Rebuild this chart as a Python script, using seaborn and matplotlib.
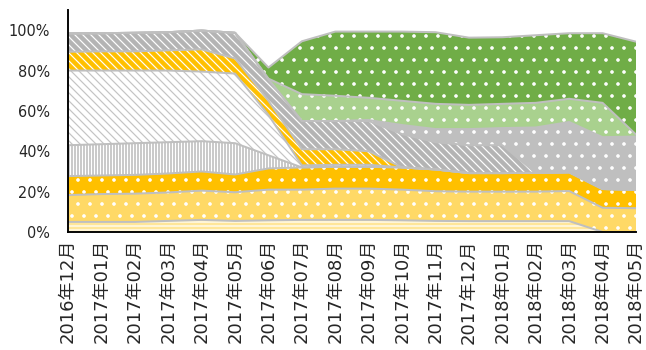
import numpy as np
import matplotlib
matplotlib.use("Agg")
import matplotlib.pyplot as plt
import seaborn as sns

# ==========================================
# Data (percent share per month, bottom layer first)
# ==========================================
months = ["2016年12月", "2017年01月", "2017年02月", "2017年03月", "2017年04月",
          "2017年05月", "2017年06月", "2017年07月", "2017年08月", "2017年09月",
          "2017年10月", "2017年11月", "2017年12月", "2018年01月", "2018年02月",
          "2018年03月", "2018年04月", "2018年05月"]

s1 = [5, 5, 5, 5.5, 6, 5.5, 5.8, 6, 6, 6, 5.8, 5.5, 5.4, 5.4, 5.4, 5.4, 0, 0]
s2 = [13.3, 13.8, 14, 14.1, 14.5, 14.2, 15.2, 15, 15.5, 15.5, 15.2, 14.7, 14.6, 14.6, 14.6, 14.9, 12, 11.8]
s3 = [9.4, 9.2, 9.3, 9.4, 9.5, 8.8, 10.5, 11, 10.8, 10.8, 11, 10.8, 9.2, 9.2, 9.3, 9.3, 9.3, 9.2]
s4 = [15.3, 15.5, 15.7, 15.5, 15, 15.5, 6.5, 0, 0, 0, 0, 0, 0, 0, 0, 0, 0, 0]
s5 = [37, 36.5, 36, 35.5, 34.5, 34.5, 20, 1, 1, 1, 0, 0, 0, 0, 0, 0, 0, 0]
s6 = [9.3, 9.5, 9.5, 10, 11, 7.5, 7, 8, 7.7, 6.7, 0, 0, 0, 0, 0, 0, 0, 0]
s7 = [9.1, 9, 9.2, 9, 9.3, 12.7, 10.6, 14, 14, 15, 16.5, 13.5, 13.8, 13.8, 0, 0, 0, 0]
s8 = [0, 0, 0, 0, 0, 0, 0, 0, 0, 0.5, 4.5, 6.5, 8, 8.5, 22.5, 24.9, 25.7, 26.3]
s9 = [0, 0, 0, 0, 0, 0, 0.4, 13.3, 12.5, 11, 12, 12.5, 12, 12, 12.2, 11.5, 17, 1]
s10 = [0, 0, 0, 0, 0, 0, 5.5, 26.2, 31.8, 32.8, 34.3, 35.5, 33.3, 33, 33.5, 32.5, 34.5, 46]

series = [s1, s2, s3, s4, s5, s6, s7, s8, s9, s10]

# face colour, hatch, hatch colour for each layer
styles = [
    ("#ffe699", "---", "white"),
    ("#ffd966", ".", "white"),
    ("#ffc000", ".", "white"),
    ("#c4c4c4", "||||", "white"),
    ("white", "\\\\\\", "#c4c4c4"),
    ("#ffc000", "\\\\\\", "white"),
    ("#b4b4b4", "\\\\\\", "white"),
    ("#bfbfbf", ".", "white"),
    ("#a9d18e", ".", "white"),
    ("#70ad47", ".", "white"),
]

# ==========================================
# Style (dpi 72 so 1 pt == 1 px)
# ==========================================
sns.set_style("white")
plt.rcParams['font.family'] = ['DejaVu Sans', 'Noto Sans CJK SC']
plt.rcParams['hatch.linewidth'] = 1.2

fig, ax = plt.subplots(figsize=(646/72, 350/72), dpi=72)
fig.subplots_adjust(left=68/646, right=636/646, bottom=118/350, top=340/350)

x = np.arange(len(months))
polys = ax.stackplot(x, *series, colors=[s[0] for s in styles])
for p, (fc, h, hc) in zip(polys, styles):
    p.set_facecolor(fc)
    p.set_edgecolor(hc)
    if hasattr(p, "set_hatchcolor"):
        p.set_hatchcolor(hc)
    p.set_linewidth(0)
    p.set_hatch(h)

# gray border on top of every layer
cum = np.cumsum(np.array(series, dtype=float), axis=0)
for row in cum:
    sns.lineplot(x=x, y=row, ax=ax, color="#bfbfbf", lw=2.0, zorder=3)

# ==========================================
# Axes
# ==========================================
ax.set_xlim(0, len(months) - 1)
ax.set_ylim(0, 110)
ax.set_yticks(range(0, 101, 20))
ax.set_yticklabels([f"{v}%" for v in range(0, 101, 20)], fontsize=14.5)
ax.set_xticks(x)
ax.set_xticklabels(months, rotation=90, fontsize=18)
sns.despine(ax=ax)
for sp in ["left", "bottom"]:
    ax.spines[sp].set_color("black")
    ax.spines[sp].set_linewidth(1.9)
    ax.spines[sp].set_zorder(5)
ax.tick_params(axis="y", direction="in", length=5.5, width=1.8, color="black", pad=18)
ax.tick_params(axis="x", direction="in", length=5.5, width=1.8, color="black", pad=7)
ax.set_xlabel("")
ax.set_ylabel("")

fig.savefig("out.png", dpi=72)
plt.close()
